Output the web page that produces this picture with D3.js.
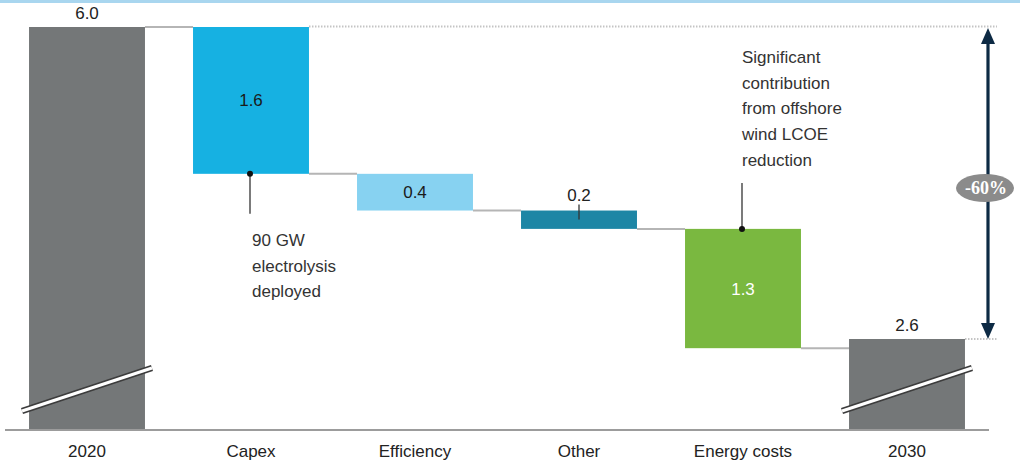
<!DOCTYPE html>
<html>
<head>
<meta charset="utf-8">
<script src="https://cdn.jsdelivr.net/npm/d3@7"></script>
<style>
  html, body { margin: 0; padding: 0; background: #fff; }
  svg { display: block; font-family: "Liberation Sans", Arial, sans-serif; }
</style>
</head>
<body>
<svg id="chart" width="1020" height="463"></svg>
<script>
// Waterfall: cost bridge 2020 -> 2030
const categories = ["2020", "Capex", "Efficiency", "Other", "Energy costs", "2030"];
const values = [6.0, 1.6, 0.4, 0.2, 1.3, 2.6];
const kinds = ["total", "step", "step", "step", "step", "total"];
const valueLabels = ["6.0", "1.6", "0.4", "0.2", "1.3", "2.6"];
const changeLabel = "-60%";

const capexNote = ["90 GW", "electrolysis", "deployed"];
const energyNote = ["Significant", "contribution", "from offshore", "wind LCOE", "reduction"];

// styling
const fills = {
  "2020": "#747778", "Capex": "#16b1e2", "Efficiency": "#87d2f1",
  "Other": "#1d86a5", "Energy costs": "#7ab840", "2030": "#747778"
};
const W = 1020, H = 463;
const baseY = 430;

const svg = d3.select("#chart");

// top rule
svg.append("rect").attr("x", 0).attr("y", 0).attr("width", W).attr("height", 3).attr("fill", "#a9d6ef");

const x = d3.scaleBand().domain(categories).range([5, 989])
  .paddingInner(0.293).paddingOuter(0.1465);
// broken value axis: totals run down to the baseline
const y = d3.scaleLinear().domain([2.6, 6.0]).range([339, 27]);

// compute bar extents
let running = 0;
const bars = categories.map((c, i) => {
  let top, bottom;
  if (kinds[i] === "total") {
    top = values[i]; bottom = null; running = values[i];
  } else {
    top = running; bottom = running - values[i]; running = bottom;
  }
  return { cat: c, value: values[i], label: valueLabels[i], kind: kinds[i], top, bottom };
});

// connectors
const conn = svg.append("g").attr("stroke", "#b5b5b5").attr("stroke-width", 2).attr("fill", "none");
for (let i = 0; i < bars.length - 1; i++) {
  const a = bars[i], b = bars[i + 1];
  const level = a.kind === "total" ? a.top : a.bottom;
  conn.append("line")
    .attr("x1", x(a.cat) + x.bandwidth()).attr("x2", x(b.cat))
    .attr("y1", y(level)).attr("y2", y(level));
}
// dotted reference levels toward the arrow
const dots = svg.append("g").attr("stroke", "#c4c4c4").attr("stroke-width", 2)
  .attr("stroke-dasharray", "1.5,1.5");
dots.append("line")
  .attr("x1", x("Capex") + x.bandwidth()).attr("x2", 997)
  .attr("y1", y(values[0]) - 0.5).attr("y2", y(values[0]) - 0.5);
dots.append("line")
  .attr("x1", x("2030") + x.bandwidth()).attr("x2", 997)
  .attr("y1", y(values[5])).attr("y2", y(values[5]));

// axis baseline
svg.append("line").attr("x1", 5).attr("x2", 989).attr("y1", baseY).attr("y2", baseY)
  .attr("stroke", "#9c9c9c").attr("stroke-width", 2);

// bars
svg.append("g").selectAll("rect").data(bars).join("rect")
  .attr("x", d => x(d.cat))
  .attr("width", x.bandwidth())
  .attr("y", d => y(d.top))
  .attr("height", d => (d.kind === "total" ? baseY - 1 : y(d.bottom)) - y(d.top))
  .attr("fill", d => fills[d.cat]);

// axis break marks on total bars
bars.filter(d => d.kind === "total").forEach(d => {
  const x0 = x(d.cat) - 7, x1 = x(d.cat) + x.bandwidth() + 7;
  const p = `M${x0},${baseY - 19}L${x1},${baseY - 62}`;
  svg.append("path").attr("d", p).attr("stroke", "#3c3c3c").attr("stroke-width", 6.5).attr("fill", "none");
  svg.append("path").attr("d", p).attr("stroke", "#ffffff").attr("stroke-width", 3).attr("fill", "none");
});

// value labels
const lab = svg.append("g").attr("font-size", 17).attr("text-anchor", "middle");
bars.forEach(d => {
  const cx = x(d.cat) + x.bandwidth() / 2;
  if (d.kind === "total") {
    lab.append("text").attr("x", cx).attr("y", y(d.top) - 8).attr("fill", "#222").text(d.label);
  } else if (d.cat === "Other") {
    lab.append("text").attr("x", cx).attr("y", y(d.top) - 10).attr("fill", "#222").text(d.label);
    svg.append("line").attr("x1", cx).attr("x2", cx)
      .attr("y1", y(d.top) - 6).attr("y2", y(d.top) + 9)
      .attr("stroke", "#333").attr("stroke-width", 1.3);
  } else {
    const my = (y(d.top) + y(d.bottom)) / 2;
    lab.append("text").attr("x", cx).attr("y", my + 6)
      .attr("fill", d.cat === "Energy costs" ? "#ffffff" : "#1a1a1a").text(d.label);
  }
});

// category labels
svg.append("g").attr("font-size", 17).attr("text-anchor", "middle").attr("fill", "#222")
  .selectAll("text").data(categories).join("text")
  .attr("x", c => x(c) + x.bandwidth() / 2)
  .attr("y", 457)
  .text(c => c);

// callouts
const lineGap = 25.7;
function callout(lines, tx, ty, lx, ly1, ly2, dotY) {
  svg.append("line").attr("x1", lx).attr("x2", lx).attr("y1", ly1).attr("y2", ly2)
    .attr("stroke", "#333").attr("stroke-width", 1.3);
  svg.append("circle").attr("cx", lx).attr("cy", dotY).attr("r", 3).attr("fill", "#111");
  const t = svg.append("text").attr("font-size", 17).attr("fill", "#333");
  lines.forEach((s, i) => t.append("tspan").attr("x", tx).attr("y", ty + i * lineGap).text(s));
}
const capex = bars[1], energy = bars[4];
const capexX = x("Capex") + x.bandwidth() / 2 - 1;
callout(capexNote, capexX + 2, y(capex.bottom) + 72,
  capexX, y(capex.bottom), y(capex.bottom) + 40, y(capex.bottom));
const energyX = x("Energy costs") + x.bandwidth() / 2 - 1;
callout(energyNote, energyX, 63, energyX, 183, y(energy.top), y(energy.top));

// overall change arrow
const ax = 988;
const navy = "#0d2a44";
svg.append("line").attr("x1", ax).attr("x2", ax)
  .attr("y1", y(values[0]) + 12).attr("y2", y(values[5]) - 12)
  .attr("stroke", navy).attr("stroke-width", 3.2);
const tipTop = y(values[0]) + 1, tipBot = y(values[5]);
svg.append("path").attr("fill", navy)
  .attr("d", `M${ax},${tipTop}L${ax - 7},${tipTop + 16}L${ax + 7},${tipTop + 16}Z`);
svg.append("path").attr("fill", navy)
  .attr("d", `M${ax},${tipBot}L${ax - 7},${tipBot - 16}L${ax + 7},${tipBot - 16}Z`);
svg.append("ellipse").attr("cx", 985).attr("cy", 188).attr("rx", 29).attr("ry", 14)
  .attr("fill", "#8b8b8b");
svg.append("text").attr("x", 986).attr("y", 194).attr("text-anchor", "middle")
  .attr("font-family", "'Liberation Serif', 'DejaVu Serif', serif").attr("font-weight", "bold")
  .attr("font-size", 18).attr("fill", "#ffffff").text(changeLabel);
</script>
</body>
</html>
